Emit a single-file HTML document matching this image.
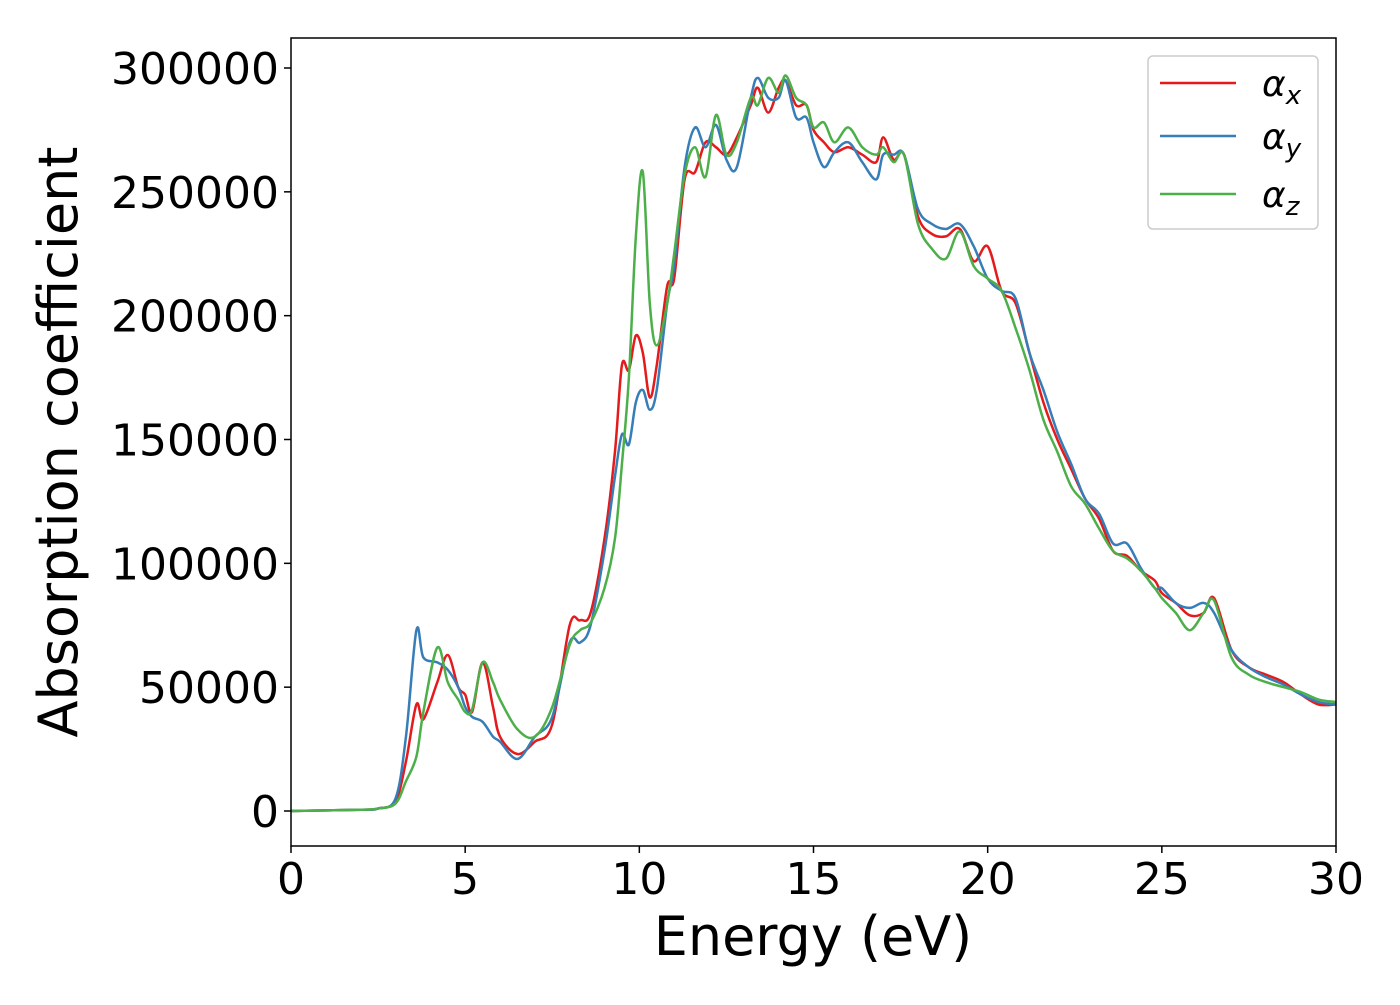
<!DOCTYPE html>
<html><head><meta charset="utf-8"><style>
body{margin:0;background:#fff}
svg text{font-family:"DejaVu Sans","Liberation Sans",sans-serif;fill:#000}
</style></head><body>
<svg width="1400" height="1000">
<g id="plot"></g>
<g id="axes"></g>
</svg>
<script>
const energies=[0,2,2.5,3,3.3,3.6,3.8,4.2,4.5,4.8,5.0,5.2,5.5,5.8,6.0,6.5,7,7.5,8,8.3,8.6,9,9.3,9.5,9.7,9.9,10.1,10.3,10.5,10.8,11,11.3,11.6,11.9,12.2,12.5,12.8,13.2,13.4,13.7,14,14.2,14.5,14.8,15,15.3,15.6,16,16.4,16.8,17,17.3,17.6,18,18.4,18.8,19.2,19.6,20,20.4,20.8,21.2,21.6,22,22.4,22.8,23.2,23.6,24,24.4,24.8,25,25.4,25.8,26.2,26.5,27,27.5,28,28.5,29,29.5,30];
const alphaX=[0,0.5,1,4,20,43,37,52,63,50,47,40,60,42,30,23,28,35,75,77,80,110,145,180,178,192,185,167,180,212,215,255,258,270,268,265,272,285,292,282,292,295,285,285,275,270,266,268,265,262,272,263,265,240,233,232,235,222,228,210,205,185,165,150,138,126,118,105,103,97,93,88,84,79,80,86,65,58,55,52,47,43,43];
const alphaY=[0,0.5,1,5,30,73,62,60,57,50,42,38,36,30,28,21,30,38,68,68,75,105,135,152,148,165,170,162,170,205,220,260,276,268,277,263,260,288,296,288,288,295,280,280,270,260,266,270,262,255,265,265,265,243,237,235,237,228,215,210,207,185,170,153,140,126,120,108,108,98,90,90,84,82,84,80,65,58,54,51,47,44,43];
const alphaZ=[0,0.5,1,3,12,22,40,66,52,45,40,41,60,52,45,33,30,42,67,73,76,90,110,140,175,232,258,205,188,205,225,257,268,256,281,265,270,288,285,296,290,297,288,285,276,278,270,276,268,265,268,262,265,237,227,223,234,220,215,210,195,178,158,145,131,124,114,105,102,97,90,86,80,73,80,85,62,55,52,50,48,45,44];
const xTicks=[0,5,10,15,20,25,30];
const yTicks=[0,50000,100000,150000,200000,250000,300000];
const L=291,R=1336,T=38,B=846;
const X=v=>L+(v-0)/30*(R-L);
const Y=v=>811-(v/300000)*(811-68);
const NS='http://www.w3.org/2000/svg';
function mk(t,a,p){const e=document.createElementNS(NS,t);for(const k in a)e.setAttribute(k,a[k]);p.appendChild(e);return e;}
const plot=document.getElementById('plot'),axes=document.getElementById('axes');
function path(vals){const p=energies.map((e,i)=>[X(e),Y(vals[i]*1000)]);let d='M'+p[0][0]+','+p[0][1];
for(let i=0;i<p.length-1;i++){const p0=p[i-1]||p[i],p1=p[i],p2=p[i+1],p3=p[i+2]||p2;
d+=' C'+(p1[0]+(p2[0]-p0[0])/6)+','+(p1[1]+(p2[1]-p0[1])/6)+' '+(p2[0]-(p3[0]-p1[0])/6)+','+(p2[1]-(p3[1]-p1[1])/6)+' '+p2[0]+','+p2[1];}return d;}
const series=[[alphaX,'#e41a1c','line-alpha-x'],[alphaY,'#377eb8','line-alpha-y'],[alphaZ,'#4daf4a','line-alpha-z']];
const cp=mk('clipPath',{id:'c'},plot);mk('rect',{x:L,y:T,width:R-L,height:B-T},cp);
series.forEach(s=>{const e=mk('path',{d:path(s[0]),fill:'none',stroke:s[1],'stroke-width':2.5,'clip-path':'url(#c)'},plot);

});
const fr=mk('rect',{x:L,y:T,width:R-L,height:B-T,fill:'none',stroke:'#000','stroke-width':1.5},axes);


xTicks.forEach(v=>{mk('line',{x1:X(v),x2:X(v),y1:B,y2:B+7,stroke:'#000','stroke-width':1.5},axes);
const t=mk('text',{x:X(v),y:B+48,'text-anchor':'middle','font-size':44},axes);t.textContent=v;

});
yTicks.forEach(v=>{mk('line',{x1:L-7,x2:L,y1:Y(v),y2:Y(v),stroke:'#000','stroke-width':1.5},axes);
const t=mk('text',{x:L-12,y:Y(v)+16,'text-anchor':'end','font-size':44},axes);t.textContent=v;

});
</script>
<svg width="1400" height="1000" style="position:absolute;left:0;top:0">
<text x="813" y="955" text-anchor="middle" font-size="54">Energy (eV)</text>
<text transform="translate(77,442) rotate(-90)" text-anchor="middle" font-size="54">Absorption coefficient</text>
<g>
<rect x="1148" y="56" width="170" height="173" rx="5" fill="#fff" fill-opacity="0.8" stroke="#ccc" stroke-width="1.5"/>
<line x1="1160" x2="1236" y1="83" y2="83" stroke="#e41a1c" stroke-width="2.5"/>
<line x1="1160" x2="1236" y1="136" y2="136" stroke="#377eb8" stroke-width="2.5"/>
<line x1="1160" x2="1236" y1="194" y2="194" stroke="#4daf4a" stroke-width="2.5"/>
<text x="1262" y="96" font-size="36" font-style="italic">α<tspan font-size="26" dy="8">x</tspan></text>
<text x="1262" y="149" font-size="36" font-style="italic">α<tspan font-size="26" dy="8">y</tspan></text>
<text x="1262" y="207" font-size="36" font-style="italic">α<tspan font-size="26" dy="8">z</tspan></text>
</g>
</svg>
</body></html>
